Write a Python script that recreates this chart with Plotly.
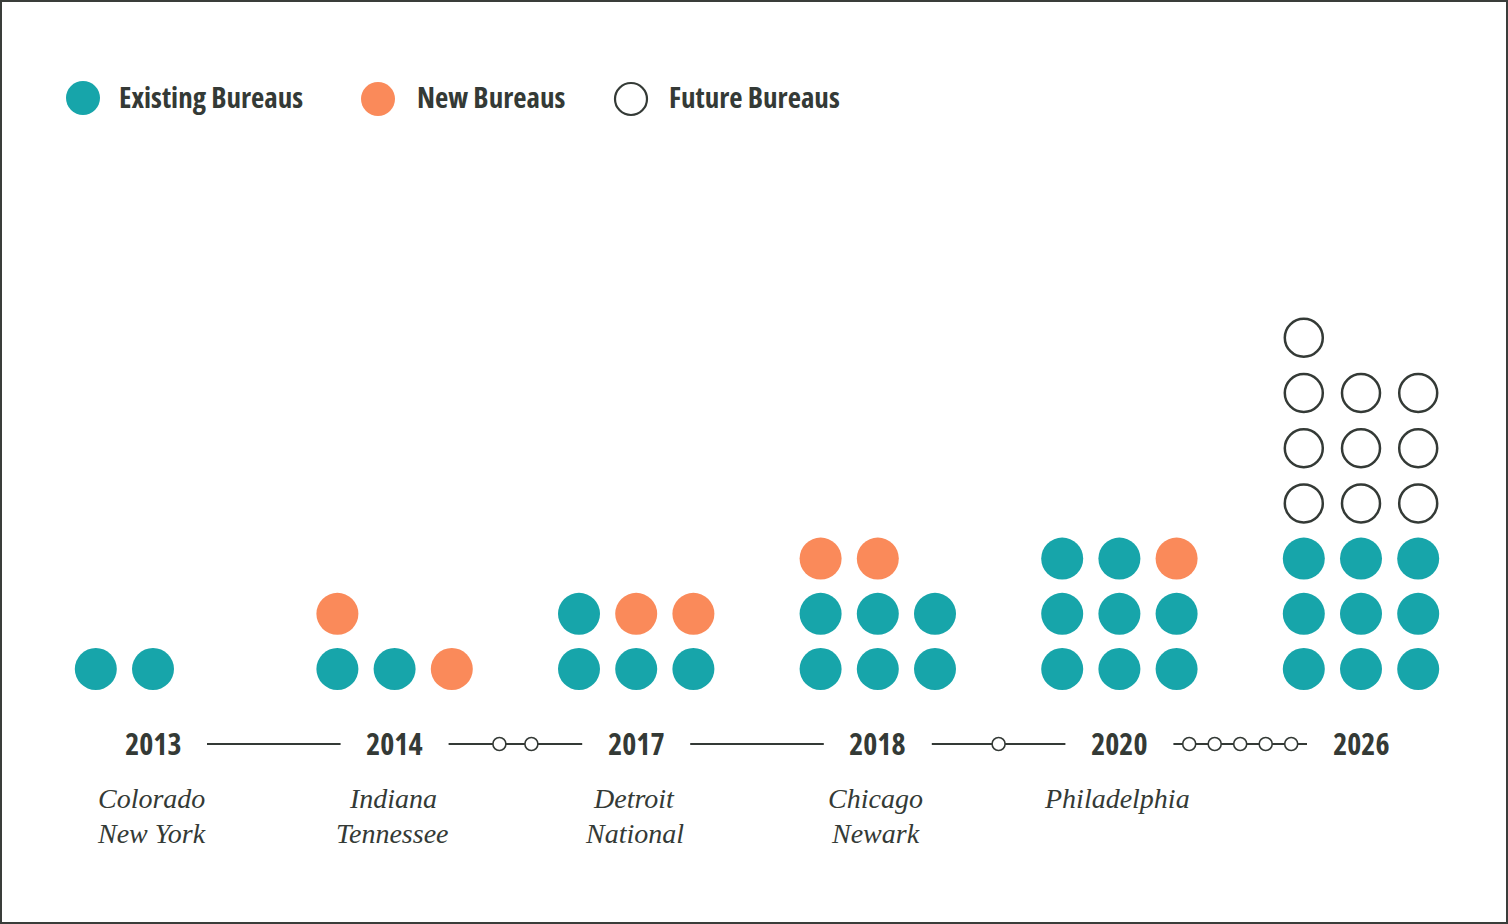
import plotly.graph_objects as go

# ---------------- data ----------------
years = ["2013", "2014", "2017", "2018", "2020", "2026"]
existing = [2, 2, 4, 6, 8, 9]
new = [0, 2, 2, 2, 1, 0]
future = [0, 0, 0, 0, 0, 10]
cities = [["Colorado", "New York"], ["Indiana", "Tennessee"], ["Detroit", "National"],
          ["Chicago", "Newark"], ["Philadelphia"], []]
legend_labels = ["Existing Bureaus", "New Bureaus", "Future Bureaus"]

# ---------------- style / layout ----------------
W, H = 1508, 924
TEAL = "#17A5AA"
ORANGE = "#FA8A5A"
DARK = "#343a36"
COND = "Open Sans"
SERIF = "Liberation Serif, DejaVu Serif, serif"

GROUP_X0, GROUP_DX = 153, 241.6
COL_DX = 57.2
ROW_Y0, ROW_DY = 669, 55.2
NCOLS = 3
LABEL_Y = 743
CITY_Y0, CITY_DY = 798, 35

fig = go.Figure()

def group_x(i):
    return GROUP_X0 + i * GROUP_DX

# dot grid
for kind, color in [("existing", TEAL), ("new", ORANGE), ("future", "white")]:
    xs, ys = [], []
    for i in range(len(years)):
        seq = ["existing"] * existing[i] + ["new"] * new[i] + ["future"] * future[i]
        for k, s in enumerate(seq):
            if s != kind:
                continue
            r, c = divmod(k, NCOLS)
            xs.append(group_x(i) + (c - 1) * COL_DX)
            ys.append(ROW_Y0 - r * ROW_DY)
    if kind == "future":
        marker = dict(size=38, color="white", line=dict(color=DARK, width=2.5))
    else:
        marker = dict(size=42, color=color, line=dict(width=0))
    fig.add_trace(go.Scatter(x=xs, y=ys, mode="markers", marker=marker,
                             showlegend=False, hoverinfo="skip"))

# connectors between years
for i in range(len(years) - 1):
    x0 = group_x(i) + 54
    x1 = group_x(i + 1) - 54
    fig.add_trace(go.Scatter(x=[x0, x1], y=[LABEL_Y + 1, LABEL_Y + 1], mode="lines",
                             line=dict(color=DARK, width=2), showlegend=False,
                             hoverinfo="skip"))
    gap = int(years[i + 1]) - int(years[i]) - 1
    if gap > 0:
        mid = (x0 + x1) / 2
        s = 32 if gap < 5 else 25.5
        cx = [mid + (k - (gap - 1) / 2) * s for k in range(gap)]
        fig.add_trace(go.Scatter(x=cx, y=[LABEL_Y + 1] * gap, mode="markers",
                                 marker=dict(size=13, color="white",
                                             line=dict(color=DARK, width=1.6)),
                                 showlegend=False, hoverinfo="skip"))

annotations = []
# year labels
for i, y in enumerate(years):
    annotations.append(dict(x=group_x(i), y=LABEL_Y, text="<b>%s</b>" % y,
                            showarrow=False, xanchor="center", yanchor="middle",
                            align="center",
                            font=dict(family=COND, size=30, color=DARK)))
    for k, c in enumerate(cities[i]):
        annotations.append(dict(x=group_x(i) - 2, y=CITY_Y0 + k * CITY_DY,
                                text="<i>%s</i>" % c, showarrow=False,
                                xanchor="center", yanchor="middle",
                                font=dict(family=SERIF, size=28, color=DARK)))

# legend
leg_dot_x = [83, 378, 631]
leg_text_x = [117, 415, 667]
leg_y = 98
fig.add_trace(go.Scatter(x=leg_dot_x[:2], y=[leg_y, leg_y + 1], mode="markers",
                         marker=dict(size=34, color=[TEAL, ORANGE], line=dict(width=0)),
                         showlegend=False, hoverinfo="skip"))
fig.add_trace(go.Scatter(x=[leg_dot_x[2]], y=[leg_y + 1], mode="markers",
                         marker=dict(size=32, color="white", line=dict(color=DARK, width=2.2)),
                         showlegend=False, hoverinfo="skip"))
for tx, lab in zip(leg_text_x, legend_labels):
    annotations.append(dict(x=tx, y=leg_y - 1.5, text="<b>%s</b>" % lab, showarrow=False,
                            xanchor="left", yanchor="middle", align="left",
                            font=dict(family=COND, size=29, color=DARK)))

fig.update_layout(
    width=W, height=H,
    margin=dict(l=0, r=0, t=0, b=0),
    paper_bgcolor="white", plot_bgcolor="white",
    xaxis=dict(range=[0, W], visible=False, fixedrange=True),
    yaxis=dict(range=[H, 0], visible=False, fixedrange=True),
    annotations=annotations,
    shapes=[dict(type="rect", xref="paper", yref="paper", x0=0, y0=0, x1=1, y1=1,
                 line=dict(color="#3a3d3a", width=4), fillcolor="rgba(0,0,0,0)")],
)

post = """
document.body.style.margin='0';
document.querySelectorAll('text').forEach(function(t){
  if ((t.style.fontFamily||'').indexOf('Open Sans')>=0) { t.style.fontStretch='75%'; }
});
"""
fig.write_html("out.html", post_script=post, config={"displayModeBar": False})
